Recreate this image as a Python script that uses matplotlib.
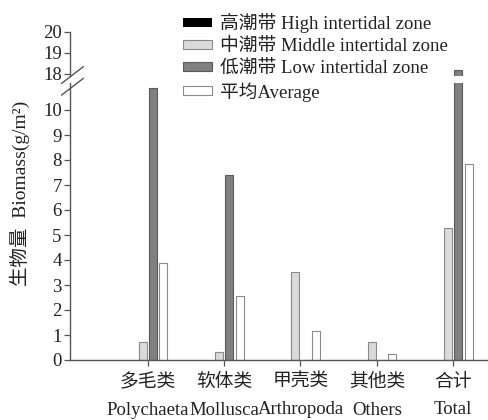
import matplotlib
matplotlib.use("Agg")
import matplotlib.pyplot as plt
import numpy as np
from matplotlib.lines import Line2D

plt.rcParams['font.family'] = ['Liberation Serif', 'Noto Sans CJK SC']

categories_cn = ["多毛类", "软体类", "甲壳类", "其他类", "合计"]
categories_en = ["Polychaeta", "Mollusca", "Arthropoda", "Others", "Total"]
high = [0, 0, 0, 0, 0]
middle = [0.72, 0.32, 3.52, 0.72, 5.28]
low = [10.9, 7.4, 0, 0, 18.2]
average = [3.87, 2.57, 1.17, 0.24, 7.85]
series_names = ["高潮带 High intertidal zone", "中潮带 Middle intertidal zone",
                "低潮带 Low intertidal zone", "平均Average"]
lower_ticks = list(range(0, 11))
upper_ticks = [18, 19, 20]

W, H = 489, 420
fig = plt.figure(figsize=(W / 100, H / 100), dpi=100)

left = 70 / W
width = 1 - left
ax_lo = fig.add_axes([left, (H - 360) / H, width, 277 / H])
ax_hi = fig.add_axes([left, (H - 76) / H, width, 44.5 / H])

x = np.arange(len(categories_cn))
step = 0.135
bw = 0.105
styles = [
    dict(color="#000000", edgecolor="#000000", lw=0.6),
    dict(color="#dadada", edgecolor="#8a8a8a", lw=0.8),
    dict(color="#808080", edgecolor="#5a5a5a", lw=0.8),
    dict(color="#ffffff", edgecolor="#8a8a8a", lw=0.8),
]
data = [high, middle, low, average]
handles = []
for ax in (ax_lo, ax_hi):
    for i, (vals, st) in enumerate(zip(data, styles)):
        b = ax.bar(x + (i - 1.5) * step, vals, width=bw, color=st["color"],
                   edgecolor=st["edgecolor"], linewidth=st["lw"] if any(vals) else 0,
                   label=series_names[i])
        if ax is ax_lo:
            handles.append(b)

ax_lo.set_ylim(0, 11.08)
ax_hi.set_ylim(17.9, 20)
for ax in (ax_lo, ax_hi):
    ax.set_xlim(-1.02, 4.47)
    ax.spines['top'].set_visible(False)
    ax.spines['right'].set_visible(False)
    for s in ax.spines.values():
        s.set_color("#555555")
        s.set_linewidth(1.0)
    ax.tick_params(axis='y', direction='out', length=4, width=0.9, colors="#555555",
                   labelcolor="#222222", labelsize=13.5, pad=2)
ax_hi.spines['bottom'].set_visible(False)
ax_hi.set_xticks([])
ax_lo.set_yticks(lower_ticks)
ax_hi.set_yticks(upper_ticks)

ax_lo.set_xticks(x)
ax_lo.set_xticklabels([f"{c}\n{e}" for c, e in zip(categories_cn, categories_en)],
                      linespacing=1.8)
ax_lo.tick_params(axis='x', direction='out', length=4, width=0.9, colors="#555555",
                  labelcolor="#222222", labelsize=13.5, pad=6)

# break marks
for y0 in (83.3, 95.0):
    fig.add_artist(Line2D([61.7 / W, 83.3 / W], [(H - y0) / H, (H - y0 + 16.6) / H],
                          color="#555555", lw=1.0))

fig.text(20 / W, 1 - 193 / H, "生物量  Biomass(g/m²)", rotation=90,
         ha='center', va='center', fontsize=14, color="#222222")

leg = fig.legend(handles, series_names, loc='upper left',
                 bbox_to_anchor=(183 / W, 1 - 13 / H), frameon=False,
                 fontsize=13.5, handlelength=1.55, handleheight=0.37,
                 handletextpad=0.44, labelspacing=0.26, borderpad=0, borderaxespad=0)
for t in leg.get_texts():
    t.set_color("#222222")

fig.savefig("out.png", dpi=100)
